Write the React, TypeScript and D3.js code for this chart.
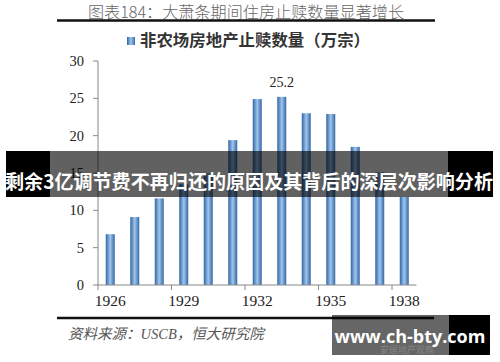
import * as d3 from "d3";

const years = ["1926", "1927", "1928", "1929", "1930", "1931", "1932", "1933", "1934", "1935", "1936", "1937", "1938"];
const foreclosures = [6.8, 9.1, 11.6, 13.5, 15.0, 19.4, 24.9, 25.2, 23.0, 22.9, 18.5, 15.1, 11.8];
const yTicks = [0, 5, 10, 15, 20, 25, 30];
const xLabelYears = ["1926", "1929", "1932", "1935", "1938"];
const labelled = "1933";

const title = "图表184：大萧条期间住房止赎数量显著增长";
const legendText = "非农场房地产止赎数量（万宗）";
const sourceText = "资料来源：USCB，恒大研究院";
const bannerText = "剩余3亿调节费不再归还的原因及其背后的深层次影响分析";
const watermark = "www.ch-bty.com";

const W = 500;
const H = 362;
const serif = "'Liberation Serif', 'Times New Roman', 'Noto Sans CJK SC', serif";
const cjk = "'Noto Sans CJK SC', sans-serif";

export default function App() {
  const x = d3.scaleBand<string>().domain(years).range([98, 416.5]).padding(0);
  const y = d3.scaleLinear().domain([0, 30]).range([285, 61]);
  const barW = 9;
  const bw = x.bandwidth();

  return (
    <svg width={W} height={H} style={{ position: "absolute", left: 0, top: 0, background: "#fff" }}>
      <defs>
        <linearGradient id="bar" x1="0" x2="1" y1="0" y2="0">
          <stop offset="0" stopColor="#35649c" />
          <stop offset="0.2" stopColor="#5a8cc6" />
          <stop offset="0.5" stopColor="#a3c5ea" />
          <stop offset="0.8" stopColor="#5b8dc7" />
          <stop offset="1" stopColor="#36659d" />
        </linearGradient>
      </defs>

      {/* title */}
      <text x={88} y={17.5} textLength={316} lengthAdjust="spacingAndGlyphs" fontFamily={cjk} fontSize={16} fill="#666" fontWeight={300}>
        {title}
      </text>
      <line x1={57} x2={435} y1={20.5} y2={20.5} stroke="#111" strokeWidth={2.5} />

      {/* legend */}
      <rect x={127} y={37} width={8} height={8} fill="url(#bar)" />
      <text x={140} y={46} textLength={230} lengthAdjust="spacingAndGlyphs" fontFamily={cjk} fontSize={16.3} fontWeight={700} fill="#333">
        {legendText}
      </text>

      {/* bars */}
      {years.map((yr, i) => (
        <rect
          key={yr}
          x={(x(yr) as number) + (bw - barW) / 2}
          y={y(foreclosures[i])}
          width={barW}
          height={y(0) - y(foreclosures[i])}
          fill="url(#bar)"
        />
      ))}
      {years.map((yr, i) =>
        yr === labelled ? (
          <text key={yr} x={(x(yr) as number) + bw / 2} y={y(foreclosures[i]) - 10} textAnchor="middle" fontFamily={serif} fontSize={14} fill="#222">
            {foreclosures[i].toFixed(1)}
          </text>
        ) : null
      )}

      {/* y axis */}
      <line x1={98} x2={98} y1={y(30)} y2={y(0)} stroke="#888" strokeWidth={1} />
      {yTicks.map((t) => (
        <g key={t}>
          <line x1={93} x2={98} y1={y(t)} y2={y(t)} stroke="#888" />
          <text x={84} y={y(t) + 5} textAnchor="end" fontFamily={serif} fontSize={14.5} fill="#222">
            {t}
          </text>
        </g>
      ))}

      {/* x axis */}
      <line x1={98} x2={416.5} y1={y(0)} y2={y(0)} stroke="#888" strokeWidth={1} />
      {xLabelYears.map((yr) => (
        <g key={yr}>
          <line x1={x(yr) as number} x2={x(yr) as number} y1={y(0)} y2={y(0) + 5} stroke="#888" />
          <text x={(x(yr) as number) + bw / 2} y={306} textAnchor="middle" fontFamily={serif} fontSize={15.5} fill="#222">
            {yr}
          </text>
        </g>
      ))}

      {/* banner overlay */}
      <rect x={6} y={151} width={44} height={46} fill="#000" />
      <rect x={50} y={151} width={398} height={46} fill="#000" fillOpacity={0.62} />
      <rect x={448} y={151} width={45} height={46} fill="#000" />
      <text x={5} y={189} textLength={488} lengthAdjust="spacingAndGlyphs" fontFamily={cjk} fontSize={19.4} fontWeight={700} fill="#fff">
        {bannerText}
      </text>

      {/* bottom */}
      <line x1={57} x2={434} y1={318} y2={318} stroke="#111" strokeWidth={2.5} />
      <text x={68} y={339} fontFamily={serif} fontSize={14.5} fontStyle="italic" fill="#555">
        {sourceText}
      </text>

      {/* watermark */}
      <rect x={332} y={315} width={117} height={40} fill="#000" fillOpacity={0.6} />
      <rect x={449} y={315} width={41} height={40} fill="#000" />
      <text x={380} y={353} fontFamily={cjk} fontSize={9} fill="#999" opacity={0.6}>
        安居地产观察
      </text>
      <text x={410} y={343} textAnchor="middle" fontFamily="'Open Sans', 'DejaVu Sans', sans-serif" fontSize={18} fontWeight={700} fill="#fff">
        {watermark}
      </text>
    </svg>
  );
}
